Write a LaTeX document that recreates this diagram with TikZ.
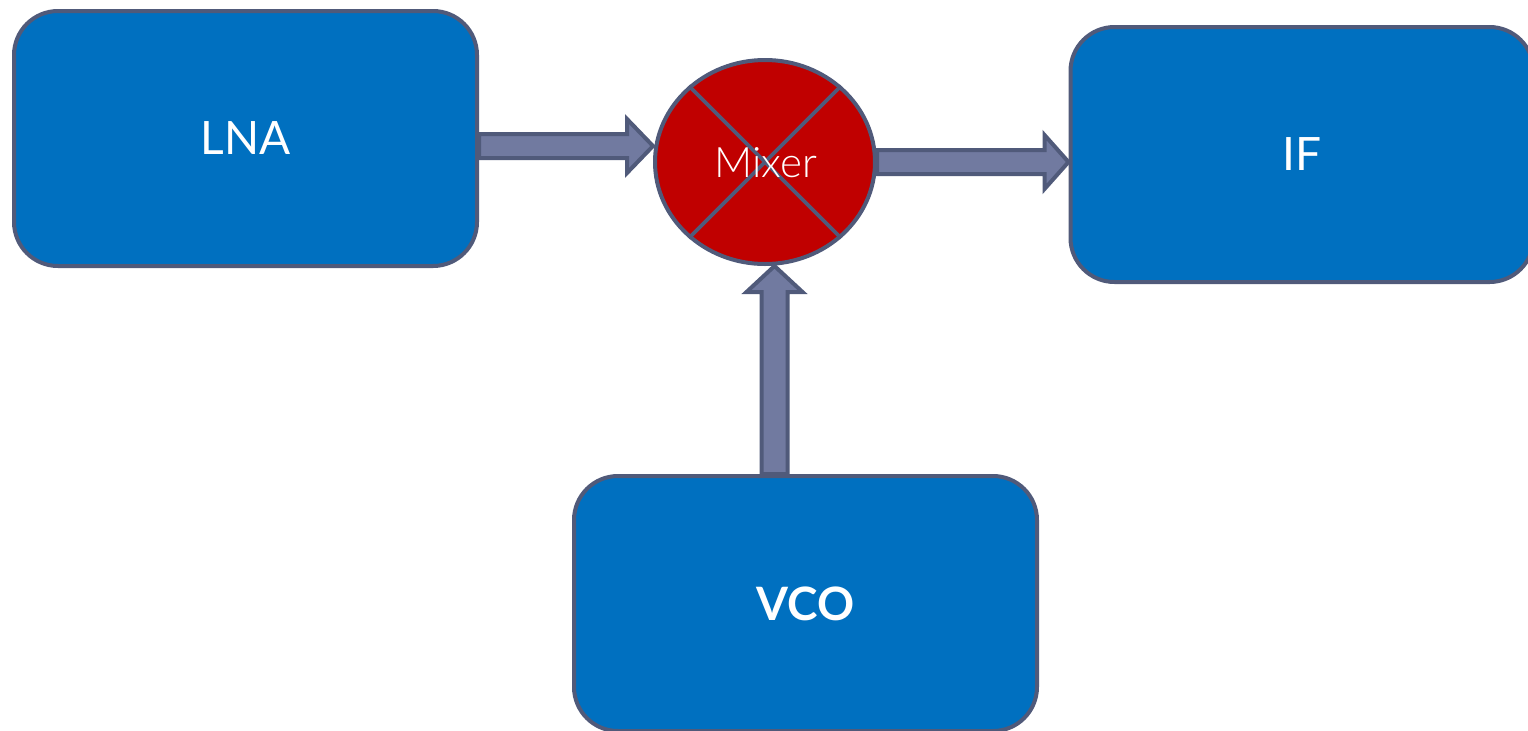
\documentclass[tikz,border=0pt]{standalone}
\usepackage{fontspec}
\setmainfont{Lato}
\newfontfamily\lightfont{Lato Light}
\usetikzlibrary{calc,shapes.geometric}
\definecolor{boxblue}{RGB}{0,112,192}
\definecolor{edgeblue}{RGB}{80,90,122}
\definecolor{arrowfill}{RGB}{113,122,160}
\definecolor{mixred}{RGB}{192,0,0}
\tikzset{
  block/.style={draw=edgeblue, line width=2pt, fill=boxblue, rounded corners=22pt,
    minimum width=231.5pt, minimum height=127.5pt, inner sep=0pt, text=white,
    font=\fontsize{23}{27}\selectfont},
  mixnode/.style={ellipse, draw=edgeblue, line width=2pt, fill=mixred,
    minimum width=110pt, minimum height=102pt, inner sep=0pt},
  barrow/.style={draw=edgeblue, line width=2pt, fill=arrowfill, line join=miter},
  crossline/.style={draw=edgeblue, line width=1.8pt}
}
\begin{document}
\begin{tikzpicture}[x=0.5pt,y=-0.5pt]
\useasboundingbox (0,0) rectangle (1528,730);
\node[block] (lna) at (245.5,138.5) {LNA};
\node[block] (if) at (1302,154.5) {IF};
\node[block, font=\fontsize{23}{27}\selectfont\bfseries] (vco) at (805.5,603.5) {VCO};
\node[mixnode] (mixer) at (765,162) {};
\draw[crossline] (mixer.135) -- (mixer.-45);
\draw[crossline] (mixer.45) -- (mixer.-135);
\node[text=white, font=\lightfont\fontsize{21}{25}\selectfont] (mixlabel) at (766,163) {Mixer};
% arrow LNA -> Mixer
\coordinate (a1s) at ($(lna.east)+(0,7.5)$);
\coordinate (a1e) at (a1s -| mixer.west);
\draw[barrow] let \p1=(a1s), \p2=(a1e) in
  (\x1,\y1+6pt) -- (\x2-13pt,\y1+6pt) -- (\x2-13pt,\y1+13.5pt) -- (\x2,\y1)
  -- (\x2-13pt,\y1-13.5pt) -- (\x2-13pt,\y1-6pt) -- (\x1,\y1-6pt) -- cycle;
% arrow Mixer -> IF
\coordinate (a2s) at (mixer.east);
\coordinate (a2e) at (a2s -| if.west);
\draw[barrow] let \p1=(a2s), \p2=(a2e) in
  (\x1,\y1+6pt) -- (\x2-12pt,\y1+6pt) -- (\x2-12pt,\y1+13.5pt) -- (\x2,\y1)
  -- (\x2-12pt,\y1-13.5pt) -- (\x2-12pt,\y1-6pt) -- (\x1,\y1-6pt) -- cycle;
% arrow VCO -> Mixer
\coordinate (a3s) at ($(vco.north)+(-31,0)$);
\coordinate (a3e) at (a3s |- mixer.south);
\draw[barrow] let \p1=(a3s), \p2=(a3e) in
  (\x1-6.5pt,\y1) -- (\x1-6.5pt,\y2-13pt) -- (\x1-14pt,\y2-13pt) -- (\x1,\y2)
  -- (\x1+14pt,\y2-13pt) -- (\x1+6.5pt,\y2-13pt) -- (\x1+6.5pt,\y1) -- cycle;
\end{tikzpicture}
\end{document}
